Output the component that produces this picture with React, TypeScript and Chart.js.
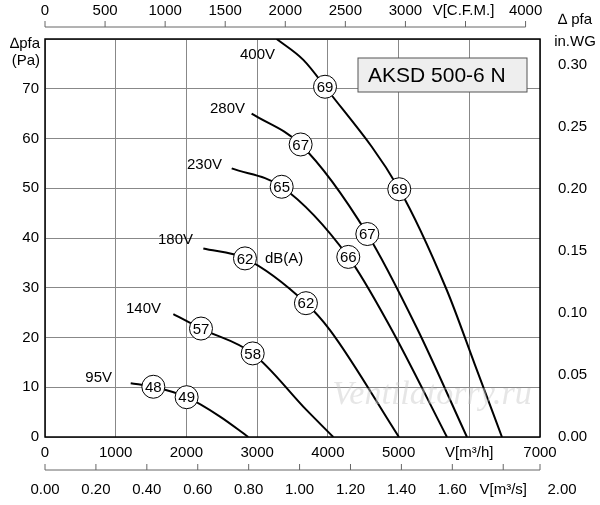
import React, { useEffect, useRef } from "react";
import { Chart, registerables } from "chart.js";
Chart.register(...registerables);

// m3/h , Pa
const v400x = [3276, 3653, 3960, 5010, 5680, 6080, 6462];
const v400y = [80, 75.8, 70.4, 49.8, 29.6, 14.5, 0];
const v280x = [2922, 3615, 4558, 5255, 5967];
const v280y = [65, 58.8, 40.8, 22, 0];
const v230x = [2640, 3347, 4289, 4878, 5684];
const v230y = [54, 50.3, 36.2, 22.2, 0];
const v180x = [2239, 2828, 3690, 4030, 5005];
const v180y = [37.9, 35.9, 26.9, 21.5, 0];
const v140x = [1815, 2206, 2937, 3700, 4077];
const v140y = [24.7, 21.8, 16.8, 5.4, 0];
const v95x = [1212, 1532, 2003, 2475, 2875];
const v95y = [10.8, 10.1, 8, 4.1, 0];

const dbX = [3960, 5010, 3615, 4558, 3347, 4289, 2828, 3690, 2206, 2937, 1532, 2003];
const dbY = [70.4, 49.8, 58.8, 40.8, 50.3, 36.2, 35.9, 26.9, 21.8, 16.8, 10.1, 8];
const dbLabels = ["69", "69", "67", "67", "65", "66", "62", "62", "57", "58", "48", "49"];

const voltLabels = ["400V", "280V", "230V", "180V", "140V", "95V"];
const voltLabelPx = [[275, 55], [245, 109], [222, 165], [193, 240], [161, 309], [112, 378]];

const xTicksM3h = [0, 1000, 2000, 3000, 4000, 5000, 6000, 7000];
const cfmTicks = [0, 500, 1000, 1500, 2000, 2500, 3000, 3500, 4000];
const m3sTicks = [0, 0.2, 0.4, 0.6, 0.8, 1.0, 1.2, 1.4, 1.6, 1.8, 2.0];
const inwgTicks = [0, 0.05, 0.1, 0.15, 0.2, 0.25, 0.3];

const FONT = "'Liberation Sans', Arial, sans-serif";
const pts = (xs: number[], ys: number[]) => xs.map((x, i) => ({ x, y: ys[i] }));

export default function App() {
  const ref = useRef<HTMLCanvasElement>(null);
  useEffect(() => {
    document.body.style.margin = "0";
    const deco = {
      id: "deco",
      afterDraw(c: any) {
        const ctx = c.ctx;
        const xs = c.scales.x;
        const ys = c.scales.y;
        const a = c.chartArea;
        ctx.save();
        ctx.font = "italic 34px 'Liberation Serif', serif";
        ctx.fillStyle = "rgba(200,200,200,0.45)";
        ctx.textAlign = "center";
        ctx.textBaseline = "middle";
        ctx.fillText("Ventilatorry.ru", 432, 395);
        ctx.strokeStyle = "#000";
        ctx.lineWidth = 1.5;
        ctx.strokeRect(a.left, a.top, a.right - a.left, a.bottom - a.top);
        ctx.fillStyle = "#000";
        ctx.lineWidth = 1;
        ctx.strokeStyle = "#666";
        ctx.beginPath();
        ctx.moveTo(xs.getPixelForValue(0), 27);
        ctx.lineTo(xs.getPixelForValue(4000 * 1.699), 27);
        ctx.stroke();
        ctx.font = "15px " + FONT;
        ctx.textBaseline = "middle";
        cfmTicks.forEach((t) => {
          const px = xs.getPixelForValue(t * 1.699);
          ctx.beginPath(); ctx.moveTo(px, 27); ctx.lineTo(px, 21); ctx.stroke();
          ctx.textAlign = "center";
          ctx.fillText(t === 3500 ? "V[C.F.M.]" : String(t), t === 3500 ? px - 2 : px, 11);
        });
        ctx.beginPath();
        ctx.moveTo(xs.getPixelForValue(0), 470);
        ctx.lineTo(xs.getPixelForValue(7000), 470);
        ctx.stroke();
        m3sTicks.forEach((t) => {
          const isEnd = Math.abs(t - 2) < 1e-6;
          const v = Math.min(t * 3600, 7000);
          const px = xs.getPixelForValue(v);
          ctx.beginPath(); ctx.moveTo(px, 470); ctx.lineTo(px, 464); ctx.stroke();
          ctx.textAlign = "center";
          const lab = Math.abs(t - 1.8) < 1e-6 ? "V[m³/s]" : t.toFixed(2);
          ctx.fillText(lab, isEnd ? px + 22 : px, 490);
        });
        ctx.textAlign = "right";
        ctx.fillText("∆pfa", 40, 44);
        ctx.fillText("(Pa)", 40, 61);
        ctx.textAlign = "center";
        ctx.fillText("∆ pfa", 575, 20);
        ctx.fillText("in.WG", 575, 42);
        ctx.fillStyle = "#eeeeee";
        ctx.fillRect(358, 58, 169, 34);
        ctx.strokeStyle = "#555";
        ctx.strokeRect(358, 58, 169, 34);
        ctx.fillStyle = "#000";
        ctx.font = "21px " + FONT;
        ctx.textAlign = "left";
        ctx.fillText("AKSD 500-6 N", 368, 76);
        ctx.font = "15px " + FONT;
        ctx.textAlign = "right";
        voltLabels.forEach((l, i) => ctx.fillText(l, voltLabelPx[i][0], voltLabelPx[i][1]));
        ctx.textAlign = "left";
        ctx.fillText("dB(A)", 265, 259);
        ctx.textAlign = "center";
        dbLabels.forEach((l, i) => {
          ctx.fillText(l, xs.getPixelForValue(dbX[i]), ys.getPixelForValue(dbY[i]) + 1);
        });
        ctx.restore();
      },
    };
    const line = (d: any) => ({
      type: "line" as const, data: d, borderColor: "#000", borderWidth: 2,
      pointRadius: 0, cubicInterpolationMode: "monotone" as const, fill: false, order: 2,
    });
    const chart = new Chart(ref.current!, {
      type: "scatter",
      data: {
        datasets: [
          line(pts(v400x, v400y)), line(pts(v280x, v280y)), line(pts(v230x, v230y)),
          line(pts(v180x, v180y)), line(pts(v140x, v140y)), line(pts(v95x, v95y)),
          {
            type: "scatter", data: pts(dbX, dbY), pointRadius: 11.5, pointBorderWidth: 1,
            pointBackgroundColor: "#fff", pointBorderColor: "#000", order: 1,
          } as any,
        ],
      },
      options: {
        animation: false, responsive: false, devicePixelRatio: 1,
        layout: { padding: { top: 39, left: 0, right: 0, bottom: 0 } },
        plugins: { legend: { display: false }, tooltip: { enabled: false } },
        scales: {
          x: {
            type: "linear", min: 0, max: 7000,
            afterBuildTicks: (s: any) => { s.ticks = xTicksM3h.map((v) => ({ value: v })); },
            afterFit: (s: any) => { s.height = 68; },
            grid: { color: "#888", lineWidth: 1, tickLength: 0 },
            border: { display: false },
            ticks: {
              color: "#000", font: { size: 15, family: FONT }, padding: 7, maxRotation: 0, autoSkip: false,
              callback: (v: any) => (v === 6000 ? "V[m³/h]" : String(v)),
            },
          },
          y: {
            type: "linear", min: 0, max: 80,
            afterBuildTicks: (s: any) => { s.ticks = [0, 10, 20, 30, 40, 50, 60, 70, 80].map((v) => ({ value: v })); },
            afterFit: (s: any) => { s.width = 45; },
            grid: { color: "#888", lineWidth: 1, tickLength: 0 },
            border: { display: false },
            ticks: {
              color: "#000", font: { size: 15, family: FONT }, padding: 6,
              callback: (v: any) => (v === 80 ? "" : String(v)),
            },
          },
          y2: {
            type: "linear", position: "right", min: 0, max: 80,
            afterBuildTicks: (s: any) => { s.ticks = inwgTicks.map((v) => ({ value: v * 249.089 })); },
            afterFit: (s: any) => { s.width = 60; },
            grid: { display: false, drawOnChartArea: false },
            border: { display: false },
            ticks: {
              color: "#000", font: { size: 15, family: FONT }, padding: 10,
              callback: (v: any) => (Number(v) / 249.089).toFixed(2),
            },
          },
        },
      },
      plugins: [deco],
    } as any);
    return () => chart.destroy();
  }, []);
  return <canvas ref={ref} width={600} height={505} style={{ display: "block" }} />;
}
